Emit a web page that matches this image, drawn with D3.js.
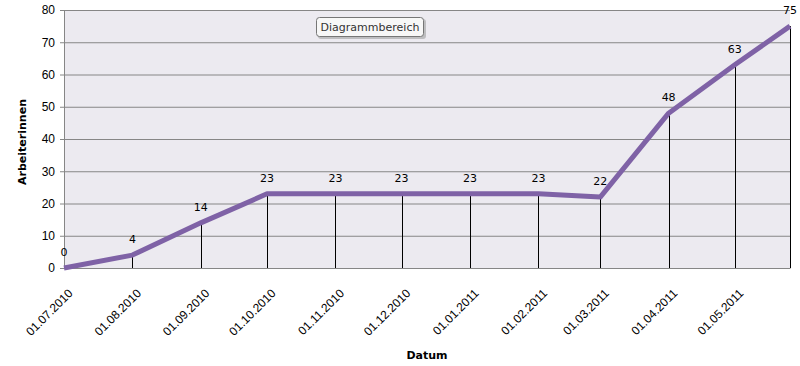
<!DOCTYPE html>
<html>
<head>
<meta charset="utf-8">
<script src="https://cdn.jsdelivr.net/npm/d3@7"></script>
<style>
  body { margin: 0; background: #fff; }
  svg { font-family: "DejaVu Sans", Verdana, sans-serif; }
</style>
</head>
<body>
<div id="chart"></div>
<script>
// Arbeiterinnen per date
const dates = [
  "2010-07-01", "2010-08-01", "2010-09-01", "2010-10-01", "2010-11-01", "2010-12-01",
  "2011-01-01", "2011-02-01", "2011-03-01", "2011-04-01", "2011-05-01", "2011-05-26",
];
const values = [0, 4, 14, 23, 23, 23, 23, 23, 22, 48, 63, 75];
const yTicks = [0, 10, 20, 30, 40, 50, 60, 70, 80];
const xTickDates = [
  "2010-07-01", "2010-08-01", "2010-09-01", "2010-10-01", "2010-11-01", "2010-12-01",
  "2011-01-01", "2011-02-01", "2011-03-01", "2011-04-01", "2011-05-01",
];

const width = 800;
const height = 366;
const margin = { top: 10, right: 10, bottom: 98, left: 64 };
const parse = d3.timeParse("%Y-%m-%d");

const data = dates.map((d, i) => ({ date: parse(d), value: values[i] }));

const x = d3
  .scaleTime()
  .domain(d3.extent(data, (d) => d.date))
  .range([margin.left, width - margin.right]);

const y = d3
  .scaleLinear()
  .domain([0, 80])
  .range([height - margin.bottom, margin.top]);

const svg = d3
  .select("#chart")
  .append("svg")
  .attr("width", width)
  .attr("height", height);

// plot area
svg
  .append("rect")
  .attr("x", x.range()[0])
  .attr("y", y(80))
  .attr("width", x.range()[1] - x.range()[0])
  .attr("height", y(0) - y(80))
  .attr("fill", "#eceaf0");

// gridlines
svg
  .append("g")
  .attr("transform", `translate(${margin.left},0)`)
  .call(
    d3.axisLeft(y).tickValues(yTicks).tickSize(-(x.range()[1] - x.range()[0])).tickFormat("")
  )
  .call((g) => g.select(".domain").remove())
  .call((g) => g.selectAll("line").attr("stroke", "#868686"));

// y axis
svg
  .append("g")
  .attr("transform", `translate(${margin.left},0)`)
  .call(d3.axisLeft(y).tickValues(yTicks).tickSize(4).tickPadding(5))
  .call((g) => g.select(".domain").attr("stroke", "#868686"))
  .call((g) => g.selectAll("line").attr("stroke", "#868686"))
  .call((g) =>
    g.selectAll("text").attr("font-size", 12).attr("fill", "#000").attr("font-family", null)
  );

// x axis
svg
  .append("g")
  .attr("transform", `translate(0,${y(0)})`)
  .call(
    d3
      .axisBottom(x)
      .tickValues(xTickDates.map(parse))
      .tickSize(0)
      .tickFormat(d3.timeFormat("%d.%m.%Y"))
  )
  .call((g) => g.select(".domain").attr("stroke", "#868686"))
  .call((g) =>
    g
      .selectAll("text")
      .attr("font-size", 12)
      .attr("font-family", null)
      .attr("fill", "#000")
      .attr("text-anchor", "end")
      .attr("dy", 0)
      .attr("y", 0)
      .attr("transform", "translate(9,26) rotate(-45)")
  );

// drop lines
svg
  .append("g")
  .selectAll("line")
  .data(data.filter((d) => d.value > 0))
  .join("line")
  .attr("x1", (d) => Math.round(x(d.date)) + 0.5)
  .attr("x2", (d) => Math.round(x(d.date)) + 0.5)
  .attr("y1", (d) => y(d.value))
  .attr("y2", y(0))
  .attr("stroke", "#000")
  .attr("stroke-width", 1);

// line
const line = d3
  .line()
  .x((d) => x(d.date))
  .y((d) => y(d.value));

svg
  .append("path")
  .datum(data)
  .attr("fill", "none")
  .attr("stroke", "#7f62a6")
  .attr("stroke-width", 5)
  .attr("stroke-linejoin", "round")
  .attr("d", line);

// data labels
svg
  .append("g")
  .selectAll("text")
  .data(data)
  .join("text")
  .attr("x", (d) => x(d.date))
  .attr("y", (d) => y(d.value) - 12)
  .attr("text-anchor", "middle")
  .attr("font-size", 11)
  .text((d) => d.value);

// axis titles
svg
  .append("text")
  .attr("x", (x.range()[0] + x.range()[1]) / 2)
  .attr("y", 359)
  .attr("text-anchor", "middle")
  .attr("font-size", 11)
  .attr("font-weight", "bold")
  .text("Datum");

svg
  .append("text")
  .attr("transform", `translate(26,${(y(0) + y(80)) / 2 + 3}) rotate(-90)`)
  .attr("text-anchor", "middle")
  .attr("font-size", 11)
  .attr("font-weight", "bold")
  .text("Arbeiterinnen");

// "Diagrammbereich" tooltip
const tip = svg.append("g").attr("transform", "translate(316,17)");
tip
  .append("rect")
  .attr("x", 2)
  .attr("y", 2)
  .attr("width", 108)
  .attr("height", 20)
  .attr("rx", 3)
  .attr("fill", "#a0a0a0")
  .attr("opacity", 0.6);
tip
  .append("rect")
  .attr("x", 0.5)
  .attr("y", 0.5)
  .attr("width", 107)
  .attr("height", 19)
  .attr("rx", 3)
  .attr("fill", "#f7f7f7")
  .attr("stroke", "#767676");
tip
  .append("text")
  .attr("x", 54)
  .attr("y", 14)
  .attr("text-anchor", "middle")
  .attr("font-size", 11)
  .attr("fill", "#333")
  .text("Diagrammbereich");
</script>
</body>
</html>
